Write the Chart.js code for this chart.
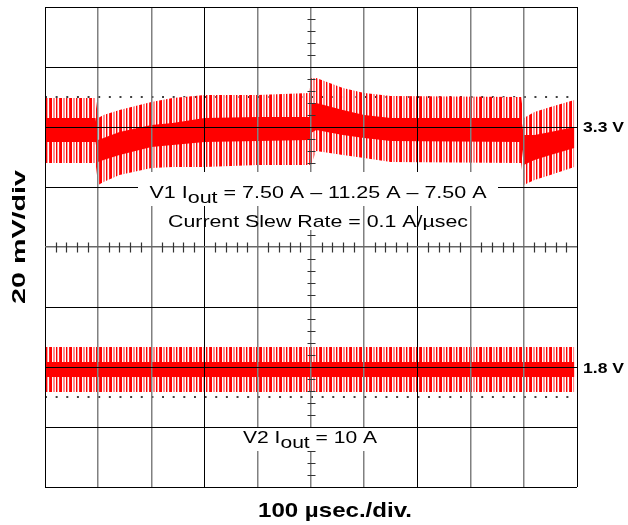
<!DOCTYPE html>
<html>
<head>
<meta charset="utf-8">
<script src="https://cdn.jsdelivr.net/npm/chart.js@4.4.1/dist/chart.umd.min.js"></script>
<style>
  html, body { margin: 0; padding: 0; background: #fff; }
  #wrap { width: 628px; height: 525px; }
</style>
</head>
<body>
<div id="wrap"><canvas id="myChart" width="628" height="525"></canvas></div>
<script>
// time in usec (100 usec per div), voltage deviation in mV (20 mV per div)
var v1Times = [0, 95, 100, 110, 140, 200, 240, 300, 400, 497, 500, 510, 560, 600, 650, 895, 900, 920, 950, 995];
var v1SpikeHi = [9.7, 9.7, 3.0, 4.0, 5.7, 8.3, 9.7, 10.7, 10.7, 11.3, 16.3, 16.3, 13.0, 11.3, 10.3, 10.0, 3.0, 5.0, 6.7, 9.0];
var v1CoreHi = [3.0, 3.0, -4.3, -3.7, -1.7, 0.7, 1.3, 3.0, 3.3, 3.3, 8.0, 8.0, 5.7, 4.0, 3.0, 3.0, -2.7, -2.7, -1.7, 0.0];
var v1CoreLo = [-5.0, -5.0, -11.7, -11.0, -9.3, -6.7, -6.0, -5.0, -4.7, -4.3, -2.0, -1.0, -2.7, -3.7, -4.7, -5.0, -12.7, -11.0, -9.3, -7.0];
var v1SpikeLo = [-12.0, -12.0, -19.3, -18.3, -16.0, -13.7, -13.3, -13.3, -12.7, -12.7, -12.7, -8.0, -9.3, -10.3, -11.7, -12.0, -19.3, -17.7, -16.0, -13.3];

var v2Times = [0, 250, 500, 750, 995];
var v2SpikeHi = [6.7, 6.7, 6.7, 6.7, 6.7];
var v2CoreHi = [1.7, 1.7, 1.7, 1.7, 1.7];
var v2CoreLo = [-3.3, -3.3, -3.3, -3.3, -3.3];
var v2SpikeLo = [-8.3, -8.3, -8.3, -8.3, -8.3];

var v1Ref = 10;   // dotted limit above 3.3 V
var v2Ref = -10;  // dotted limit below 1.8 V

// where each trace sits on the screen (mV from centre)
var V1_LEVEL = 40;
var V2_LEVEL = -40;

function band(times, vals, level) {
  var pts = [];
  for (var i = 0; i < times.length; i++) {
    pts.push({ x: times[i], y: level + vals[i] });
  }
  return pts;
}

// vertical stripes to look like the ripple spikes
function spikePattern() {
  var c = document.createElement("canvas");
  c.width = 10;
  c.height = 1;
  var g = c.getContext("2d");
  var cols = ["#ff0000", "#ff0000", null, "#ff8c8c", "#ff8c8c", null, "#ff0000", "#ff9a9a", null, "#ff2020"];
  for (var i = 0; i < cols.length; i++) {
    if (cols[i]) {
      g.fillStyle = cols[i];
      g.fillRect(i, 0, 1, 1);
    }
  }
  return g.createPattern(c, "repeat");
}
var stripes = spikePattern();

function edge(data, fill, bg) {
  return {
    data: data,
    fill: fill,
    backgroundColor: bg,
    borderColor: "rgba(0,0,0,0)",
    borderWidth: 0,
    pointRadius: 0,
    pointHoverRadius: 0,
    tension: 0
  };
}

function refLine(level) {
  return {
    data: [{ x: 0, y: level }, { x: 1000, y: level }],
    fill: false,
    borderColor: "#000",
    borderWidth: 1.5,
    borderDash: [2, 8.64],
    pointRadius: 0,
    tension: 0
  };
}

var xGridColors = ["#000", "#808080", "#808080", "#000", "#808080", "#808080", "#808080", "#000", "#808080", "#808080", "#000"];

// minor ticks on the centre axes, text boxes and labels
var decorations = {
  id: "decorations",
  afterDraw: function(chart) {
    var ctx = chart.ctx;
    var xs = chart.scales.x;
    var ys = chart.scales.y;
    var cx = Math.round(xs.getPixelForValue(500)) + 0.5;
    var cy = Math.round(ys.getPixelForValue(0)) + 0.5;
    ctx.save();
    ctx.strokeStyle = "#333";
    ctx.lineWidth = 1.2;
    ctx.beginPath();
    for (var v = -80; v <= 80; v += 4) {
      if (v % 20 == 0) continue;
      var py = Math.round(ys.getPixelForValue(v)) + 0.5;
      ctx.moveTo(cx - 4, py);
      ctx.lineTo(cx + 4, py);
    }
    for (var t = 0; t <= 1000; t += 20) {
      if (t % 100 == 0) continue;
      var px = Math.round(xs.getPixelForValue(t)) + 0.5;
      ctx.moveTo(px, cy - 5);
      ctx.lineTo(px, cy + 5);
    }
    ctx.stroke();

    // white boxes behind the notes
    ctx.fillStyle = "#fff";
    ctx.fillRect(138, 172, 360, 34);
    ctx.fillRect(262, 206, 98, 24);
    ctx.fillRect(216, 428, 191, 23);

    ctx.fillStyle = "#000";
    ctx.textBaseline = "alphabetic";
    var f = '17px "Liberation Sans", Arial, sans-serif';
    stretchedText(ctx, [["V1 I", 0], ["out", 5], [" = 7.50 A \u2013 11.25 A \u2013 7.50 A", 0]], f, 318, 198, 337);
    stretchedText(ctx, [["Current Slew Rate = 0.1 A/\u00b5sec", 0]], f, 318, 227, 300);
    stretchedText(ctx, [["V2 I", 0], ["out", 5], [" = 10 A", 0]], f, 310, 443, 134);

    var fb = 'bold 15px "Liberation Sans", Arial, sans-serif';
    ctx.textAlign = "left";
    stretchedLeft(ctx, "3.3 V", fb, 583, 132, 1.17);
    stretchedLeft(ctx, "1.8 V", fb, 583, 373, 1.17);

    stretchedText(ctx, [["100 \u00b5sec./div.", 0]], 'bold 21px "Liberation Sans", Arial, sans-serif', 335, 517, 154);

    // y title runs bottom to top
    ctx.translate(25, 237);
    ctx.rotate(-Math.PI / 2);
    stretchedText(ctx, [["20 mV/div", 0]], 'bold 19px "Liberation Sans", Arial, sans-serif', 0, 0, 134);
    ctx.restore();
  }
};

function stretchedText(ctx, parts, font, cx, y, targetW) {
  ctx.save();
  ctx.font = font;
  ctx.textAlign = "left";
  var w = 0;
  for (var i = 0; i < parts.length; i++) w += ctx.measureText(parts[i][0]).width;
  var sx = targetW / w;
  ctx.translate(cx - targetW / 2, y);
  ctx.scale(sx, 1);
  var x = 0;
  for (var i = 0; i < parts.length; i++) {
    ctx.fillText(parts[i][0], x, parts[i][1]);
    x += ctx.measureText(parts[i][0]).width;
  }
  ctx.restore();
}

function stretchedLeft(ctx, text, font, x, y, sx) {
  ctx.save();
  ctx.font = font;
  ctx.translate(x, y);
  ctx.scale(sx, 1);
  ctx.fillText(text, 0, 0);
  ctx.restore();
}

var ctx = document.getElementById("myChart").getContext("2d");
var myChart = new Chart(ctx, {
  type: "line",
  data: {
    datasets: [
      edge(band(v1Times, v1CoreHi, V1_LEVEL), 1, "#ff0000"),
      edge(band(v1Times, v1CoreLo, V1_LEVEL), false, "#ff0000"),
      edge(band(v2Times, v2CoreHi, V2_LEVEL), 3, "#ff0000"),
      edge(band(v2Times, v2CoreLo, V2_LEVEL), false, "#ff0000"),
      edge(band(v1Times, v1SpikeHi, V1_LEVEL), 5, stripes),
      edge(band(v1Times, v1SpikeLo, V1_LEVEL), false, stripes),
      edge(band(v2Times, v2SpikeHi, V2_LEVEL), 7, stripes),
      edge(band(v2Times, v2SpikeLo, V2_LEVEL), false, stripes),
      refLine(V1_LEVEL + v1Ref),
      refLine(V2_LEVEL + v2Ref)
    ]
  },
  options: {
    responsive: false,
    animation: false,
    events: [],
    layout: { padding: { left: 45, right: 51, top: 7, bottom: 38 } },
    plugins: { legend: { display: false }, tooltip: { enabled: false } },
    scales: {
      x: {
        type: "linear",
        min: 0,
        max: 1000,
        ticks: { display: false, stepSize: 100 },
        border: { display: false },
        grid: {
          z: 1,
          drawTicks: false,
          color: function(c) { return xGridColors[c.index] || "#000"; },
          lineWidth: function(c) { return xGridColors[c.index] == "#000" ? 1 : 1.5; }
        }
      },
      y: {
        type: "linear",
        min: -80,
        max: 80,
        ticks: { display: false, stepSize: 20 },
        border: { display: false },
        grid: {
          z: 1,
          drawTicks: false,
          color: function(c) { return c.index == 4 ? "#666" : "#000"; },
          lineWidth: function(c) { return c.index == 4 ? 1.5 : 1; }
        }
      }
    }
  },
  plugins: [decorations]
});
</script>
</body>
</html>
